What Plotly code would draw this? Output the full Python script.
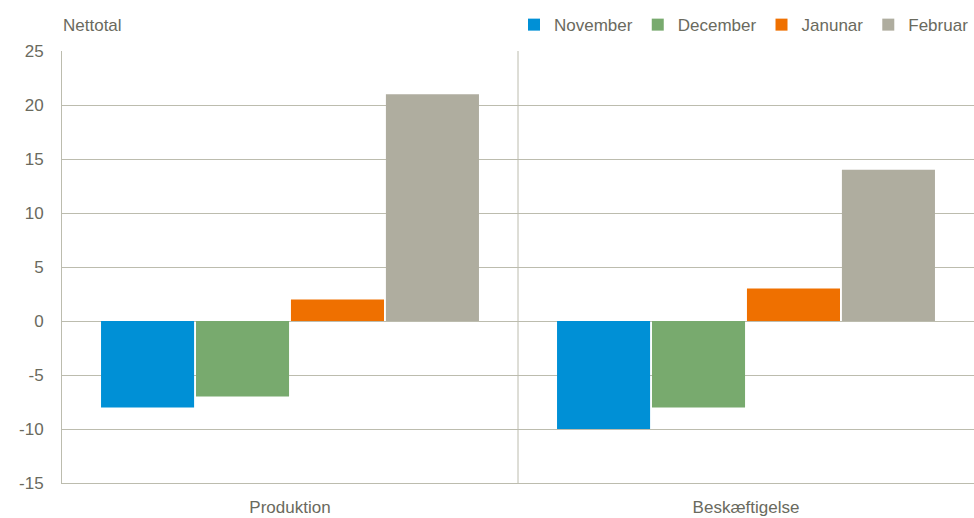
import plotly.graph_objects as go

categories = ["Produktion", "Beskæftigelse"]
series_names = ["November", "December", "Janunar", "Februar"]
november = [-8, -10]
december = [-7, -8]
janunar = [2, 3]
februar = [21, 14]
y_ticks = [-15, -10, -5, 0, 5, 10, 15, 20, 25]
y_tick_labels = ["-15", "-10", "-5", "0", "5", "10", "15", "20", "25"]

colors = ["#0090d6", "#78aa6e", "#ef7000", "#afad9f"]
text_color = "#6a6a5e"
grid_color = "#bcbcae"
font_family = "Liberation Sans, Arial, sans-serif"
fs = 17

fig = go.Figure()
for name, vals, col in zip(series_names, [november, december, janunar, februar], colors):
    fig.add_trace(go.Bar(
        x=categories, y=vals, name=name,
        marker=dict(color=col, line=dict(width=0)),
    ))

fig.add_shape(type="line", xref="x", yref="paper", x0=0.5, x1=0.5, y0=0, y1=1,
              line=dict(color=grid_color, width=1), layer="below")

fig.add_annotation(text="Nettotal", xref="paper", yref="paper", x=-0.001, y=1.06,
                   xanchor="left", yanchor="middle", showarrow=False,
                   font=dict(size=fs, color=text_color, family=font_family))

fig.update_layout(
    width=974, height=518,
    margin=dict(l=62, r=0, t=51, b=35),
    paper_bgcolor="white", plot_bgcolor="white",
    barmode="group", bargap=0.167, bargroupgap=0.02,
    font=dict(family=font_family, size=fs, color=text_color),
    showlegend=True,
    legend=dict(orientation="h", x=1.0, xanchor="right", y=1.06, yanchor="middle",
                font=dict(size=fs, color=text_color), itemwidth=30,
                bgcolor="rgba(0,0,0,0)"),
    xaxis=dict(showgrid=False, showline=True, linecolor=grid_color, linewidth=1,
               ticks="", tickfont=dict(size=fs), ticklabelstandoff=9, automargin=False),
    yaxis=dict(range=[-15, 25], tickvals=y_ticks, ticktext=y_tick_labels,
               showgrid=True, gridcolor=grid_color,
               zeroline=True, zerolinecolor=grid_color, zerolinewidth=1,
               showline=True, linecolor=grid_color, linewidth=1,
               ticks="", ticklabelstandoff=14, tickfont=dict(size=fs), automargin=False),
)

fig.write_html("out.html", config={"displayModeBar": False},
               post_script="document.body.style.margin='0';")
